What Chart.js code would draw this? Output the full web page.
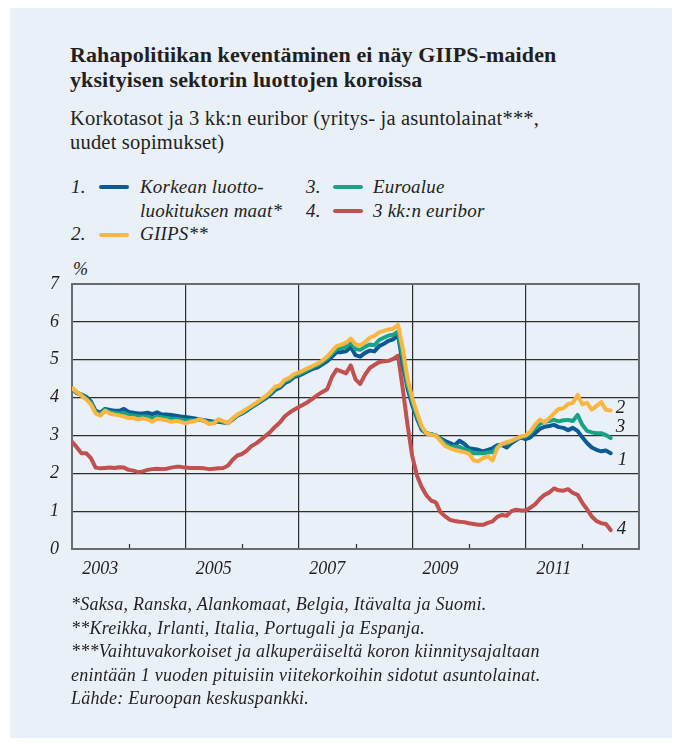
<!DOCTYPE html>
<html>
<head>
<meta charset="utf-8">
<script src="https://cdn.jsdelivr.net/npm/chart.js@4.4.1/dist/chart.umd.min.js"></script>
<style>
html, body { margin: 0; padding: 0; background: #fff; }
#panel { position: absolute; left: 10px; top: 8px; width: 662px; height: 730px; background: #e9f0f7; }
.t { position: absolute; font-family: "Liberation Serif", "DejaVu Serif", serif; color: #231f20; white-space: nowrap; }
.title { left: 70px; top: 42px; font-size: 22px; font-weight: bold; line-height: 25px; letter-spacing: 0.1px; }
.sub { left: 70px; top: 106px; font-size: 20.5px; line-height: 24px; letter-spacing: 0.2px; }
.leg { font-size: 19px; font-style: italic; line-height: 22px; letter-spacing: 0.2px; }
.sw { position: absolute; width: 30px; height: 4px; border-radius: 2px; }
.note { left: 71px; top: 593px; font-size: 18px; font-style: italic; line-height: 23.5px; letter-spacing: 0.25px; }
#wrap { position: absolute; left: 0; top: 255px; width: 681px; height: 340px; }
</style>
</head>
<body>
<div id="panel"></div>

<div class="t title">Rahapolitiikan keventäminen ei näy GIIPS-maiden<br>yksityisen sektorin luottojen koroissa</div>
<div class="t sub">Korkotasot ja 3 kk:n euribor (yritys- ja asuntolainat***,<br>uudet sopimukset)</div>

<!-- legend -->
<div class="t leg" style="left:71px;top:176px">1.</div>
<div class="sw" style="left:99px;top:185px;background:#0b5a96"></div>
<div class="t leg" style="left:140px;top:176px">Korkean luotto-</div>
<div class="t leg" style="left:140px;top:200px">luokituksen maat*</div>
<div class="t leg" style="left:71px;top:223px">2.</div>
<div class="sw" style="left:99px;top:233px;background:#fbb641"></div>
<div class="t leg" style="left:140px;top:223px">GIIPS**</div>
<div class="t leg" style="left:306px;top:176px">3.</div>
<div class="sw" style="left:333px;top:185px;background:#17a386"></div>
<div class="t leg" style="left:373px;top:176px">Euroalue</div>
<div class="t leg" style="left:306px;top:200px">4.</div>
<div class="sw" style="left:333px;top:209px;background:#c1504e"></div>
<div class="t leg" style="left:373px;top:200px">3 kk:n euribor</div>

<div class="t leg" style="left:73px;top:259px;font-size:18px;line-height:20px">%</div>

<div id="wrap"><canvas id="chart"></canvas></div>

<div class="t note">*Saksa, Ranska, Alankomaat, Belgia, Itävalta ja Suomi.<br>**Kreikka, Irlanti, Italia, Portugali ja Espanja.<br>***Vaihtuvakorkoiset ja alkuperäiseltä koron kiinnitysajaltaan<br>enintään 1 vuoden pituisiin viitekorkoihin sidotut asuntolainat.<br>Lähde: Euroopan keskuspankki.</div>

<script>
// Monthly values, Jan 2003 .. Jul 2012 (index = months since Jan 2003)
const startYear = 2003;
const endMonth = 120; // axis runs to Jan 2013
const yearLabels = ['2003', '2005', '2007', '2009', '2011'];

// 1. Korkean luottoluokituksen maat
const highRated = [
    4.25, 4.12, 4.08, 4.02, 3.90, 3.65, 3.60, 3.70, 3.67, 3.65, 3.65, 3.70,
    3.62, 3.60, 3.58, 3.58, 3.60, 3.56, 3.61, 3.55, 3.55, 3.54, 3.52, 3.50,
    3.49, 3.47, 3.45, 3.42, 3.40, 3.38, 3.36, 3.36, 3.34, 3.33, 3.42, 3.52,
    3.58, 3.66, 3.74, 3.82, 3.90, 3.98, 4.08, 4.20, 4.26, 4.38, 4.44, 4.54,
    4.58, 4.64, 4.70, 4.76, 4.80, 4.88, 4.96, 5.08, 5.20, 5.20, 5.22, 5.34,
    5.12, 5.08, 5.18, 5.24, 5.22, 5.36, 5.42, 5.50, 5.54, 5.65, 4.90, 4.25,
    3.80, 3.45, 3.15, 3.05, 3.03, 3.00, 2.92, 2.85, 2.80, 2.74, 2.86, 2.78,
    2.66, 2.64, 2.62, 2.58, 2.62, 2.66, 2.74, 2.75, 2.68, 2.80, 2.88, 2.95,
    2.90, 2.95, 3.06, 3.17, 3.23, 3.25, 3.28, 3.22, 3.20, 3.14, 3.20, 3.12,
    2.95, 2.80, 2.68, 2.62, 2.58, 2.60, 2.53
];

// 2. GIIPS
const giips = [
    4.25, 4.15, 4.05, 3.95, 3.82, 3.58, 3.52, 3.65, 3.58, 3.55, 3.53, 3.50,
    3.46, 3.46, 3.42, 3.45, 3.42, 3.36, 3.44, 3.42, 3.40, 3.36, 3.38, 3.36,
    3.32, 3.36, 3.38, 3.43, 3.38, 3.30, 3.32, 3.43, 3.38, 3.32, 3.45, 3.55,
    3.62, 3.70, 3.78, 3.86, 3.95, 4.04, 4.15, 4.29, 4.32, 4.47, 4.52, 4.62,
    4.66, 4.72, 4.78, 4.84, 4.90, 4.98, 5.08, 5.22, 5.36, 5.40, 5.45, 5.56,
    5.40, 5.38, 5.46, 5.58, 5.63, 5.72, 5.76, 5.80, 5.82, 5.92, 5.30, 4.50,
    4.00, 3.60, 3.25, 3.05, 3.02, 3.00, 2.85, 2.72, 2.66, 2.62, 2.58, 2.56,
    2.52, 2.34, 2.32, 2.40, 2.45, 2.34, 2.66, 2.78, 2.82, 2.86, 2.92, 2.97,
    3.00, 3.10, 3.28, 3.42, 3.35, 3.45, 3.58, 3.70, 3.72, 3.83, 3.86, 4.07,
    3.82, 3.86, 3.68, 3.78, 3.88, 3.68, 3.66
];

// 3. Euroalue
const euroArea = [
    4.25, 4.13, 4.07, 3.98, 3.86, 3.62, 3.56, 3.68, 3.62, 3.60, 3.58, 3.60,
    3.54, 3.52, 3.50, 3.50, 3.50, 3.45, 3.50, 3.48, 3.46, 3.44, 3.44, 3.42,
    3.40, 3.40, 3.40, 3.42, 3.38, 3.34, 3.33, 3.40, 3.36, 3.32, 3.44, 3.53,
    3.60, 3.68, 3.76, 3.84, 3.92, 4.01, 4.11, 4.25, 4.30, 4.43, 4.48, 4.58,
    4.62, 4.68, 4.74, 4.80, 4.86, 4.94, 5.03, 5.16, 5.28, 5.30, 5.34, 5.46,
    5.28, 5.26, 5.34, 5.40, 5.38, 5.52, 5.58, 5.64, 5.66, 5.74, 5.05, 4.35,
    3.90, 3.50, 3.20, 3.06, 3.03, 3.00, 2.90, 2.78, 2.70, 2.70, 2.70, 2.64,
    2.60, 2.53, 2.53, 2.53, 2.55, 2.56, 2.70, 2.77, 2.78, 2.84, 2.90, 2.95,
    2.98, 3.05, 3.19, 3.30, 3.36, 3.38, 3.41, 3.37, 3.40, 3.41, 3.38, 3.54,
    3.28, 3.12, 3.08, 3.06, 3.06, 3.01, 2.93
];

// 4. 3 kk:n euribor
const euribor = [
    2.83, 2.69, 2.53, 2.53, 2.40, 2.15, 2.13, 2.14, 2.15, 2.14, 2.16, 2.15,
    2.09, 2.07, 2.03, 2.05, 2.09, 2.11, 2.12, 2.11, 2.12, 2.15, 2.17, 2.17,
    2.15, 2.14, 2.14, 2.14, 2.13, 2.11, 2.12, 2.13, 2.14, 2.20, 2.36, 2.47,
    2.51, 2.60, 2.72, 2.79, 2.89, 2.99, 3.10, 3.23, 3.34, 3.50, 3.60, 3.68,
    3.75, 3.82, 3.89, 3.98, 4.07, 4.15, 4.22, 4.54, 4.74, 4.69, 4.64, 4.85,
    4.48, 4.36, 4.60, 4.78, 4.86, 4.94, 4.96, 4.97, 5.02, 5.11, 4.24, 3.29,
    2.46, 1.94, 1.64, 1.42, 1.28, 1.23, 0.97, 0.86, 0.77, 0.74, 0.72, 0.71,
    0.68, 0.66, 0.64, 0.64, 0.69, 0.73, 0.85, 0.90, 0.88, 1.00, 1.04, 1.02,
    1.02, 1.09, 1.18, 1.32, 1.43, 1.49, 1.60, 1.55, 1.54, 1.58, 1.48, 1.43,
    1.22, 1.05, 0.86, 0.74, 0.68, 0.66, 0.50
];

const toPoints = arr => arr.map((v, i) => ({ x: i, y: v }));

// x axis: year labels mid-year, grid every two years, small marks between
const labelMonths = yearLabels.map(y => (Number(y) - startYear) * 12 + 6);
const gridMonths = [24, 48, 72, 96];
const markMonths = [12, 36, 60, 84, 108];

const textColor = '#231f20';
const gridColor = '#2e2e2e';
const serif = "'Liberation Serif', 'DejaVu Serif', serif";

/* frame round the plot + small year marks inside the bottom edge */
const framePlugin = {
    id: 'frame',
    beforeDatasetsDraw(chart) {
        const { ctx, chartArea: a, scales } = chart;
        ctx.save();
        ctx.strokeStyle = gridColor;
        ctx.lineWidth = 1.2;
        markMonths.forEach(m => {
            const px = Math.round(scales.x.getPixelForValue(m)) + 0.5;
            ctx.beginPath();
            ctx.moveTo(px, a.bottom);
            ctx.lineTo(px, a.bottom - 5);
            ctx.stroke();
        });
        ctx.strokeStyle = '#6a6b6d';
        ctx.lineWidth = 2;
        ctx.strokeRect(a.left, a.top, a.right - a.left, a.bottom - a.top);
        ctx.restore();
    }
};

/* series numbers at the right end of each line */
const endLabelPlugin = {
    id: 'endLabels',
    afterDatasetsDraw(chart) {
        const { ctx } = chart;
        ctx.save();
        ctx.font = 'italic 19px ' + serif;
        ctx.fillStyle = textColor;
        ctx.textAlign = 'left';
        ctx.textBaseline = 'middle';
        chart.data.datasets.forEach((ds, i) => {
            const pts = chart.getDatasetMeta(i).data;
            const p = pts[pts.length - 1];
            ctx.fillText(ds.endLabel, p.x + ds.endDx, p.y + ds.endDy);
        });
        ctx.restore();
    }
};

const lineStyle = {
    borderWidth: 4,
    pointRadius: 0,
    tension: 0,
    borderJoinStyle: 'round',
    borderCapStyle: 'round',
    fill: false
};

new Chart(document.getElementById('chart'), {
    type: 'line',
    data: {
        datasets: [
            { label: 'GIIPS**', data: toPoints(giips), borderColor: '#fbb641', endLabel: '2', endDx: 5, endDy: -2, ...lineStyle },
            { label: 'Euroalue', data: toPoints(euroArea), borderColor: '#17a386', endLabel: '3', endDx: 5, endDy: -11, ...lineStyle },
            { label: 'Korkean luottoluokituksen maat*', data: toPoints(highRated), borderColor: '#0b5a96', endLabel: '1', endDx: 7, endDy: 7, ...lineStyle },
            { label: '3 kk:n euribor', data: toPoints(euribor), borderColor: '#c1504e', endLabel: '4', endDx: 6, endDy: -1, ...lineStyle }
        ]
    },
    options: {
        responsive: true,
        maintainAspectRatio: false,
        animation: false,
        layout: { padding: { left: 0, right: 42, top: 29, bottom: 0 } },
        plugins: {
            legend: { display: false },
            tooltip: { enabled: false }
        },
        scales: {
            x: {
                type: 'linear',
                min: 0,
                max: endMonth,
                afterBuildTicks(scale) {
                    const vals = [...labelMonths, ...gridMonths].sort((a, b) => a - b);
                    scale.ticks = vals.map(v => ({ value: v }));
                },
                afterFit(scale) { scale.height = 46; },
                border: { display: false },
                grid: {
                    drawTicks: false,
                    lineWidth: 1.2,
                    color: c => (c.tick && gridMonths.includes(c.tick.value)) ? gridColor : 'rgba(0,0,0,0)'
                },
                ticks: {
                    autoSkip: false,
                    maxRotation: 0,
                    padding: 9,
                    color: textColor,
                    font: { family: serif, size: 18, style: 'italic' },
                    callback: v => {
                        const k = labelMonths.indexOf(v);
                        return k >= 0 ? yearLabels[k] : '';
                    }
                }
            },
            y: {
                min: 0,
                max: 7,
                afterFit(scale) { scale.width = 72; },
                border: { display: false },
                grid: { drawTicks: false, color: gridColor, lineWidth: 1.2 },
                ticks: {
                    stepSize: 1,
                    padding: 13,
                    color: textColor,
                    font: { family: serif, size: 18, style: 'italic' }
                }
            }
        }
    },
    plugins: [framePlugin, endLabelPlugin]
});
</script>
</body>
</html>
